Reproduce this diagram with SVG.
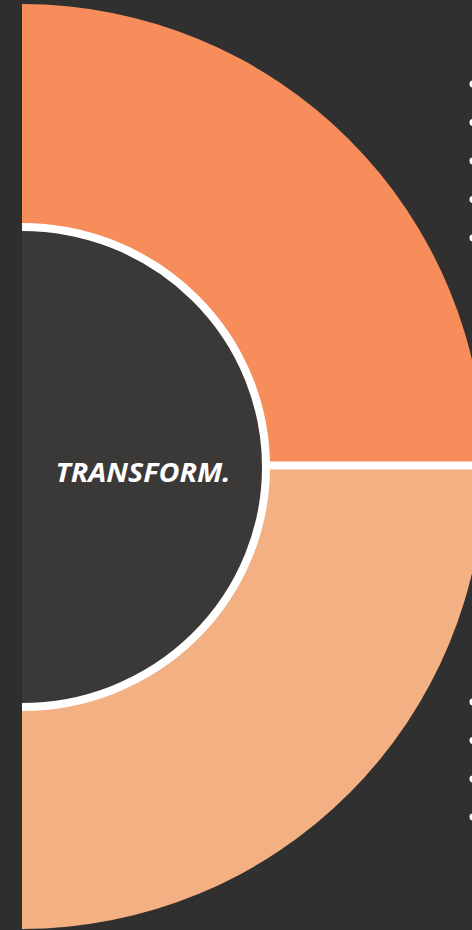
<svg xmlns="http://www.w3.org/2000/svg" width="472" height="930" viewBox="0 0 472 930">
<style>
.bullet{fill:#ffffff}
.label{font-family:"Open Sans","Liberation Sans",sans-serif;font-weight:bold;font-style:italic;font-size:27px;fill:#ffffff}
</style>
<rect x="0" y="0" width="472" height="930" fill="#303030"/>
<rect x="0" y="0" width="22" height="930" fill="#2e2e2e"/>
<g id="top-segment">
<path d="M22 466.5 L22 4 A462.5 462.5 0 0 1 484.5 466.5 Z" fill="#f68d5b"/>
</g>
<g id="bottom-segment">
<path d="M22 466.5 L484.5 466.5 A462.5 462.5 0 0 1 22 929 Z" fill="#f3b083"/>
</g>
<g id="connectors">
<line x1="22" y1="465.5" x2="472" y2="465.5" stroke="#ffffff" stroke-width="8"/>
</g>
<g id="center">
<ellipse cx="22" cy="467" rx="244" ry="240" fill="#3b3937" stroke="#ffffff" stroke-width="8"/>
<rect x="0" y="200" width="22" height="530" fill="#2e2e2e"/>
<text class="label" x="143" y="482" text-anchor="middle" textLength="175" lengthAdjust="spacingAndGlyphs">TRANSFORM.</text>
</g>
<g id="bullets-top">
<circle class="bullet" cx="473" cy="84" r="3.5"/>
<circle class="bullet" cx="473" cy="122.5" r="3.5"/>
<circle class="bullet" cx="473" cy="161" r="3.5"/>
<circle class="bullet" cx="473" cy="199.5" r="3.5"/>
<circle class="bullet" cx="473" cy="238" r="3.5"/>
</g>
<g id="bullets-bottom">
<circle class="bullet" cx="473" cy="702" r="3.5"/>
<circle class="bullet" cx="473" cy="740.5" r="3.5"/>
<circle class="bullet" cx="473" cy="779" r="3.5"/>
<circle class="bullet" cx="473" cy="817" r="3.5"/>
</g>
</svg>
